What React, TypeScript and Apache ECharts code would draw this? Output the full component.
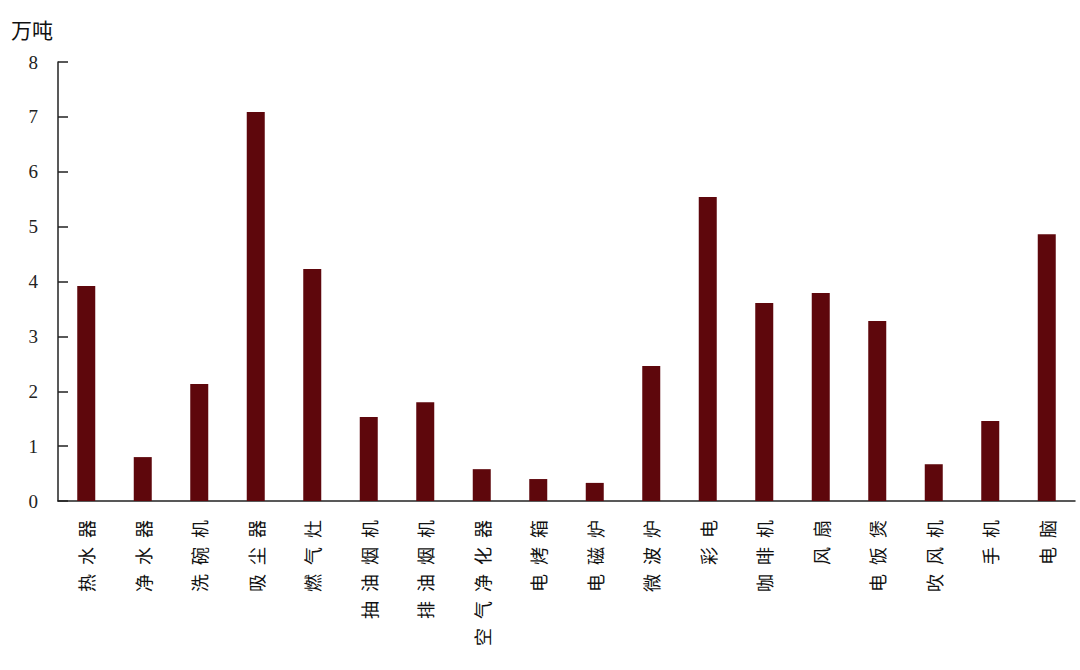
import React, { useEffect, useRef } from "react";
import * as echarts from "echarts";

const categories = [
  "热水器", "净水器", "洗碗机", "吸尘器", "燃气灶", "抽油烟机", "排油烟机", "空气净化器", "电烤箱",
  "电磁炉", "微波炉", "彩电", "咖啡机", "风扇", "电饭煲", "吹风机", "手机", "电脑",
];
const values = [3.92, 0.8, 2.13, 7.09, 4.23, 1.53, 1.8, 0.58, 0.4, 0.33, 2.46, 5.54, 3.61, 3.79, 3.28, 0.67, 1.46, 4.86];
const unitLabel = "万吨";

export default function App() {
  const ref = useRef<HTMLDivElement>(null);
  useEffect(() => {
    const chart = echarts.init(ref.current!, null, { renderer: "svg" });
    chart.setOption({
      animation: false,
      backgroundColor: "#ffffff",
      grid: { left: 58, right: 5, top: 62, bottom: 169, containLabel: false },
      graphic: [
        {
          type: "text",
          left: 11,
          top: 18,
          style: { text: unitLabel, fontSize: 21, fill: "#111", fontFamily: "Noto Sans CJK SC" },
        },
      ],
      xAxis: {
        type: "category",
        data: categories,
        axisLine: { lineStyle: { color: "#222", width: 1.5 } },
        axisTick: { show: false },
        axisLabel: {
          rotate: 90,
          interval: 0,
          margin: 19,
          fontSize: 18,
          color: "#111",
          fontFamily: "Noto Sans CJK SC",
          formatter: (v: string) => v.split("").join("\u2002"),
        },
      },
      yAxis: {
        type: "value",
        min: 0,
        max: 8,
        interval: 1,
        axisLine: { show: true, lineStyle: { color: "#222", width: 1.5 } },
        axisTick: { show: true, inside: true, length: 10, lineStyle: { color: "#222", width: 1.5 } },
        splitLine: { show: false },
        axisLabel: {
          margin: 20,
          fontSize: 19,
          color: "#222",
          fontFamily: "Liberation Serif",
        },
      },
      series: [
        {
          type: "bar",
          data: values,
          barWidth: 18,
          itemStyle: { color: "#5e070c" },
        },
      ],
    });
    return () => chart.dispose();
  }, []);
  return <div ref={ref} style={{ position: "fixed", left: 0, top: 0, width: 1080, height: 670 }} />;
}
